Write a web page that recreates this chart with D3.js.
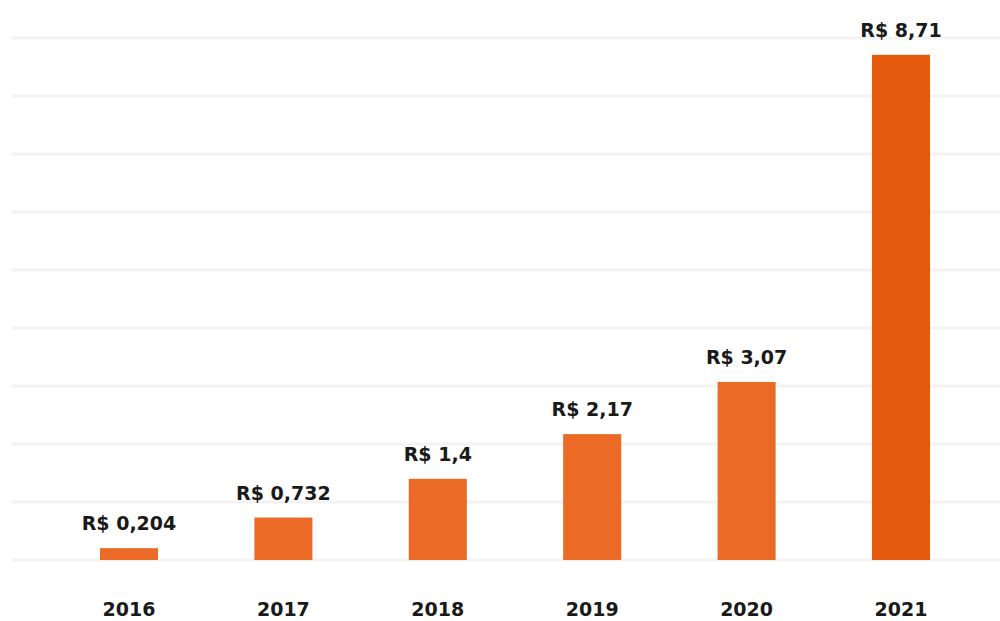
<!DOCTYPE html>
<html><head><meta charset="utf-8">
<script src="https://cdn.jsdelivr.net/npm/d3@7"></script>
<style>html,body{margin:0;padding:0;background:#fff;}svg{display:block;}</style>
</head><body><svg id="c" width="1000" height="621"></svg>
<script>
const years = ["2016","2017","2018","2019","2020","2021"];
const values = [0.204, 0.732, 1.4, 2.17, 3.07, 8.71];
const valueLabels = ["R$ 0,204","R$ 0,732","R$ 1,4","R$ 2,17","R$ 3,07","R$ 8,71"];
const gridTicks = [0,1,2,3,4,5,6,7,8,9];

const svg = d3.select("#c");
const x = d3.scaleBand().domain(years).range([51.8, 978.2]).paddingInner(0.624).paddingOuter(0.312);
const y = d3.scaleLinear().domain([0, 9]).range([560, 38]);

svg.append("g").selectAll("line").data(gridTicks).join("line")
  .attr("x1", 11).attr("x2", 1000)
  .attr("y1", d => y(d)).attr("y2", d => y(d))
  .attr("stroke", "#f3f3f3").attr("stroke-width", 3);

svg.append("g").selectAll("rect").data(values).join("rect")
  .attr("x", (d,i) => x(years[i]))
  .attr("width", x.bandwidth())
  .attr("y", d => y(d))
  .attr("height", d => y(0) - y(d))
  .attr("fill", (d,i) => i === values.length - 1 ? "#e65a0e" : "#ea6a26");

const font = "'DejaVu Sans', sans-serif";
svg.append("g").selectAll("text").data(values).join("text")
  .attr("x", (d,i) => x(years[i]) + x.bandwidth()/2)
  .attr("y", d => y(d) - 18)
  .attr("text-anchor", "middle")
  .attr("font-family", font).attr("font-weight", "bold").attr("font-size", 19)
  .attr("fill", "#1a1a1a")
  .text((d,i) => valueLabels[i]);

svg.append("g").selectAll("text").data(years).join("text")
  .attr("x", d => x(d) + x.bandwidth()/2)
  .attr("y", 616)
  .attr("text-anchor", "middle")
  .attr("font-family", font).attr("font-weight", "bold").attr("font-size", 19)
  .attr("fill", "#1a1a1a")
  .text(d => d);
</script></body></html>
